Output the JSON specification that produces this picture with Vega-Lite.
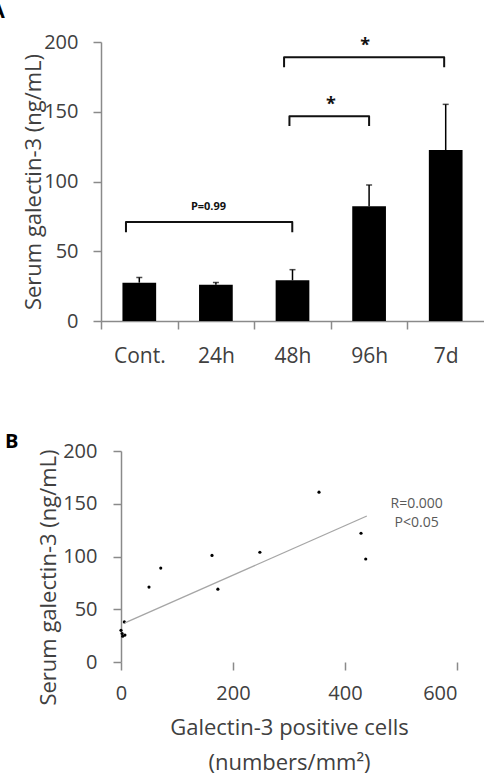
{
  "$schema": "https://vega.github.io/schema/vega-lite/v6.json",
  "background": "white",
  "padding": {"left": -9, "top": 2, "right": 0, "bottom": 4},
  "spacing": 66,
  "config": {
    "font": "Open Sans",
    "view": {"stroke": null},
    "axis": {
      "grid": false,
      "domainColor": "#8a8a8a",
      "domainWidth": 1.5,
      "tickColor": "#8a8a8a",
      "tickWidth": 1.5,
      "tickSize": 8,
      "labelFont": "Open Sans",
      "labelFontSize": 20,
      "labelColor": "#404040",
      "titleFont": "Open Sans",
      "titleFontSize": 22,
      "titleFontWeight": "normal",
      "titleColor": "#404040"
    },
    "title": {"font": "Open Sans", "fontSize": 20, "fontWeight": "bold", "color": "#000000", "anchor": "start", "frame": "group", "offset": 0}
  },
  "vconcat": [
    {
      "width": 383,
      "height": 279,
      "title": {"text": "A", "dx": -110, "dy": -6},
      "layer": [
        {
          "data": {
            "values": [
              {"group": "Cont.", "mean": 27.5, "upper": 31.2},
              {"group": "24h", "mean": 26.0, "upper": 27.6},
              {"group": "48h", "mean": 29.2, "upper": 36.8},
              {"group": "96h", "mean": 82.2, "upper": 97.5},
              {"group": "7d", "mean": 122.6, "upper": 155.3}
            ]
          },
          "encoding": {
            "x": {
              "field": "group",
              "type": "nominal",
              "sort": null,
              "scale": {"paddingInner": 0, "paddingOuter": 0},
              "axis": {"title": null, "labelAngle": 0, "labelFontSize": 21, "tickOffset": -38.3, "labelOffset": 38.3, "labelPadding": 16}
            }
          },
          "layer": [
            {
              "mark": {"type": "bar", "color": "#000000", "width": {"band": 0.44}},
              "encoding": {
                "y": {
                  "field": "mean",
                  "type": "quantitative",
                  "scale": {"domain": [0, 200], "nice": false},
                  "axis": {"values": [0, 50, 100, 150, 200], "labelPadding": 15, "titlePadding": -2, "title": "Serum galectin-3 (ng/mL)"}
                }
              }
            },
            {
              "mark": {"type": "rule", "color": "#000000", "strokeWidth": 1.5},
              "encoding": {
                "y": {"field": "mean", "type": "quantitative"},
                "y2": {"field": "upper"}
              }
            },
            {
              "mark": {"type": "tick", "color": "#000000", "thickness": 1.5, "size": 6, "orient": "horizontal"},
              "encoding": {
                "y": {"field": "upper", "type": "quantitative"}
              }
            }
          ]
        },
        {
          "layer": [
            {
              "data": {
                "values": [
                  {"pair": "b1", "k": 1, "pos": 0.326, "val": 63.6},
                  {"pair": "b1", "k": 2, "pos": 0.326, "val": 71.0},
                  {"pair": "b1", "k": 3, "pos": 2.497, "val": 71.0},
                  {"pair": "b1", "k": 4, "pos": 2.497, "val": 63.6},
                  {"pair": "b2", "k": 1, "pos": 2.46, "val": 139.8},
                  {"pair": "b2", "k": 2, "pos": 2.46, "val": 146.7},
                  {"pair": "b2", "k": 3, "pos": 3.50, "val": 146.7},
                  {"pair": "b2", "k": 4, "pos": 3.50, "val": 139.8},
                  {"pair": "b3", "k": 1, "pos": 2.39, "val": 181.9},
                  {"pair": "b3", "k": 2, "pos": 2.39, "val": 189.0},
                  {"pair": "b3", "k": 3, "pos": 4.48, "val": 189.0},
                  {"pair": "b3", "k": 4, "pos": 4.48, "val": 181.9}
                ]
              },
              "mark": {"type": "line", "color": "#111111", "strokeWidth": 2, "strokeJoin": "round"},
              "encoding": {
                "x": {"field": "pos", "type": "quantitative", "scale": {"domain": [0, 5], "nice": false, "zero": false}, "axis": null},
                "y": {"field": "val", "type": "quantitative"},
                "detail": {"field": "pair"},
                "order": {"field": "k"}
              }
            },
            {
              "data": {
                "values": [
                  {"label": "*", "pos": 3.45, "val": 193.8, "size": 18},
                  {"label": "*", "pos": 3.0, "val": 151.5, "size": 18},
                  {"label": "P=0.99", "pos": 1.403, "val": 79.8, "size": 11}
                ]
              },
              "mark": {"type": "text", "font": "Open Sans", "fontWeight": "bold", "color": "#111111", "baseline": "alphabetic", "align": "center"},
              "encoding": {
                "x": {"field": "pos", "type": "quantitative", "scale": {"domain": [0, 5], "nice": false, "zero": false}, "axis": null},
                "y": {"field": "val", "type": "quantitative"},
                "text": {"field": "label"},
                "size": {"field": "size", "type": "quantitative", "scale": null, "legend": null}
              }
            }
          ]
        }
      ],
      "resolve": {"scale": {"x": "independent"}}
    },
    {
      "width": 356,
      "height": 211,
      "title": {"text": "B", "dx": -96, "dy": 15},
      "layer": [
        {
          "data": {
            "values": [
              {"cells": 0, "serum": 30},
              {"cells": 2, "serum": 27},
              {"cells": 3, "serum": 24.5},
              {"cells": 7, "serum": 25.5},
              {"cells": 6, "serum": 38},
              {"cells": 50, "serum": 71},
              {"cells": 71, "serum": 89},
              {"cells": 162.5, "serum": 101},
              {"cells": 173, "serum": 69},
              {"cells": 248, "serum": 104},
              {"cells": 353.6, "serum": 161},
              {"cells": 428.6, "serum": 122},
              {"cells": 437, "serum": 97.6}
            ]
          },
          "mark": {"type": "circle", "color": "#000000", "opacity": 1, "size": 10},
          "encoding": {
            "x": {
              "field": "cells",
              "type": "quantitative",
              "scale": {"domain": [-35.71, 600], "nice": false, "zero": false},
              "axis": {
                "values": [0, 200, 400, 600],
                "domain": false,
                "labelPadding": 13,
                "title": ["Galectin-3 positive cells", "(numbers/mm²)"],
                "titleX": 188,
                "titleLineHeight": 35,
                "titlePadding": 14
              }
            },
            "y": {
              "field": "serum",
              "type": "quantitative",
              "scale": {"domain": [0, 200], "nice": false},
              "axis": {
                "values": [0, 50, 100, 150, 200],
                "offset": -20,
                "labelPadding": 16,
                "titlePadding": 2,
                "titleY": 126,
                "title": "Serum galectin-3 (ng/mL)"
              }
            }
          }
        },
        {
          "mark": {"type": "rule", "color": "#8a8a8a", "strokeWidth": 1.5},
          "encoding": {
            "x": {"datum": 0, "type": "quantitative"},
            "x2": {"datum": 600},
            "y": {"datum": 0, "type": "quantitative"}
          }
        },
        {
          "data": {
            "values": [
              {"cells": 7, "serum": 37},
              {"cells": 439, "serum": 138.4}
            ]
          },
          "mark": {"type": "line", "color": "#a6a6a6", "strokeWidth": 1.3},
          "encoding": {
            "x": {"field": "cells", "type": "quantitative"},
            "y": {"field": "serum", "type": "quantitative"}
          }
        },
        {
          "data": {
            "values": [
              {"cells": 528, "serum": 146, "note": "R=0.000"},
              {"cells": 528, "serum": 128, "note": "P<0.05"}
            ]
          },
          "mark": {"type": "text", "font": "Open Sans", "fontSize": 14, "color": "#595959", "align": "center", "baseline": "alphabetic"},
          "encoding": {
            "x": {"field": "cells", "type": "quantitative"},
            "y": {"field": "serum", "type": "quantitative"},
            "text": {"field": "note"}
          }
        }
      ]
    }
  ]
}
